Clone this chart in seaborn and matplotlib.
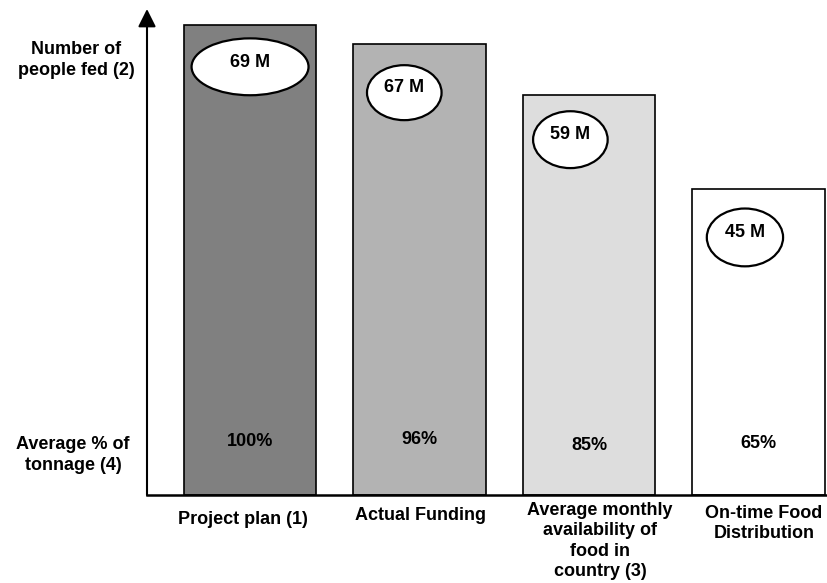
import matplotlib
matplotlib.use("Agg")
import matplotlib.pyplot as plt
from matplotlib.patches import Ellipse
import seaborn as sns
import pandas as pd

# ---- data ----
categories = ["Project plan (1)", "Actual Funding",
              "Average monthly\navailability of\nfood in\ncountry (3)",
              "On-time Food\nDistribution"]
tonnage_pct = [100, 96, 85, 65]
people_fed = ["69 M", "67 M", "59 M", "45 M"]
pct_labels = ["100%", "96%", "85%", "65%"]
bar_colors = ["#808080", "#b3b3b3", "#dddddd", "#ffffff"]

# ---- layout / style ----
ell_dx = [0.0, -0.09, -0.11, -0.08]       # ellipse x offset from bar centre
ell_drop = [8.9, 10.4, 9.4, 10.2]         # ellipse centre below bar top (data units)
ell_w = [0.69, 0.44, 0.44, 0.45]
ell_h = [12.1, 11.7, 12.1, 12.3]
pct_y = [11.3, 11.9, 10.6, 11.0]
lab_dx = [-7.5, 1, 11, 5.5]               # px offsets for category labels
lab_top = [16, 12, 7, 10]

sns.set_style("white")
plt.rcParams["font.family"] = ["Liberation Sans", "DejaVu Sans"]
plt.rcParams["font.weight"] = "bold"
plt.rcParams["text.color"] = "black"

fig = plt.figure(figsize=(8.28, 5.83), dpi=100)
ax = fig.add_axes([147 / 828, 88 / 583, (828 - 147) / 828, (495 - 9) / 583])

df = pd.DataFrame({"cat": categories, "val": tonnage_pct})
sns.barplot(data=df, x="cat", y="val", hue="cat", palette=bar_colors,
            width=0.78, edgecolor="black", linewidth=1.2, legend=False,
            saturation=1, ax=ax)

ax.set_xlim(-0.608, 3.41)
ax.set_ylim(0, 103.4)
ax.set_xlabel("")
ax.set_ylabel("")
ax.set_xticks([])
ax.set_yticks([])
for s in ["top", "right", "left"]:
    ax.spines[s].set_visible(False)
ax.spines["bottom"].set_linewidth(1.8)
ax.spines["bottom"].set_color("black")

# y axis arrow
ax.annotate("", xy=(0, 1), xytext=(0, 0), xycoords="axes fraction",
            arrowprops=dict(arrowstyle="-|>,head_length=0.4,head_width=0.2",
                            mutation_scale=27, lw=1.5, color="black",
                            shrinkA=0, shrinkB=0), annotation_clip=False)

fs = 13
for i, v in enumerate(tonnage_pct):
    cy = v - ell_drop[i]
    e = Ellipse((i + ell_dx[i], cy), ell_w[i], ell_h[i], facecolor="white",
                edgecolor="black", lw=1.6, zorder=5)
    ax.add_patch(e)
    ax.text(i + ell_dx[i], cy + 1.0, people_fed[i], ha="center", va="center",
            fontsize=fs, fontweight="bold", color="black", zorder=6)
    ax.text(i, pct_y[i], pct_labels[i], ha="center", va="center",
            fontsize=fs, fontweight="bold", color="black", zorder=6)
    ax.annotate(categories[i], xy=(i, 0), xycoords="data",
                xytext=(lab_dx[i] * 0.72, -lab_top[i] * 0.72),
                textcoords="offset points", ha="center", va="top",
                fontsize=fs, fontweight="bold", linespacing=1.25,
                color="black", annotation_clip=False)

fig.text(76 / 828, 1 - 60 / 583, "Number of\npeople fed (2)", ha="center",
         va="center", fontsize=fs, fontweight="bold", linespacing=1.25,
         color="black")
fig.text(73 / 828, 1 - 455 / 583, "Average % of\ntonnage (4)", ha="center",
         va="center", fontsize=fs, fontweight="bold", linespacing=1.25,
         color="black")

fig.savefig("out.png", dpi=100)
